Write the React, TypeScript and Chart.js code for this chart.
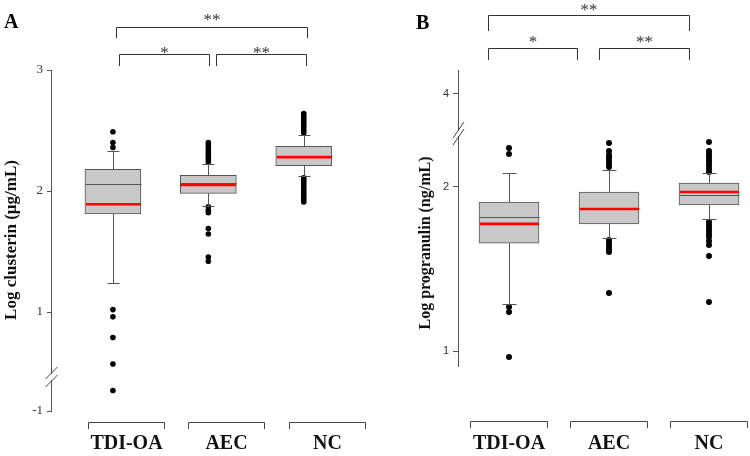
import React, { useEffect, useRef } from 'react';
import { Chart, registerables, LinearScale } from 'chart.js';

// ---------------- data ----------------
const categories = ['TDI-OA', 'AEC', 'NC'];

// Panel A: Log clusterin (μg/mL)
const clusterinQ1 = [1.81, 1.98, 2.21];
const clusterinQ3 = [2.18, 2.13, 2.37];
const clusterinMedian = [2.06, 2.07, 2.29];
const clusterinMean = [1.89, 2.05, 2.28];
const clusterinWhiskerLow = [1.24, 1.88, 2.12];
const clusterinWhiskerHigh = [2.33, 2.22, 2.46];
const clusterinOutliersTDI = [2.49, 2.4, 2.36, 1.02, 0.96, 0.79, 0.57, -0.83];
const clusterinOutliersAEC = [2.4, 2.38, 2.36, 2.34, 2.32, 2.3, 2.28, 2.26, 2.24, 1.87, 1.84, 1.82, 1.69, 1.645, 1.455, 1.42];
const clusterinOutliersNC = [2.64, 2.62, 2.6, 2.58, 2.56, 2.54, 2.52, 2.5, 2.48, 2.11, 2.09, 2.07, 2.05, 2.03, 2.01, 1.99, 1.97, 1.95, 1.93, 1.91];
const clusterinTicks = [3, 2, 1, -1];

// Panel B: Log progranulin (ng/mL)
const progranulinQ1 = [1.578, 1.711, 1.854];
const progranulinQ3 = [1.877, 1.958, 2.034];
const progranulinMedian = [1.762, 1.83, 1.935];
const progranulinMean = [1.711, 1.822, 1.958];
const progranulinWhiskerLow = [1.22, 1.612, 1.747];
const progranulinWhiskerHigh = [2.122, 2.149, 2.122];
const progranulinOutliersTDI = [2.358, 2.3, 1.204, 1.179, 0.975];
const progranulinOutliersAEC = [2.409, 2.329, 2.29, 2.26, 2.233, 2.2, 2.176, 1.598, 1.578, 1.558, 1.539, 1.52, 1.278];
const progranulinOutliersNC = [2.419, 2.329, 2.3, 2.27, 2.24, 2.215, 2.19, 2.16, 2.13, 1.725, 1.703, 1.682, 1.661, 1.64, 1.619, 1.592, 1.565, 1.494, 1.23];
const progranulinTicks = [4, 2, 1];

// ---------------- broken axis scale ----------------
class BrokenScale extends LinearScale {
  static id = 'broken';
  static defaults = {};
  t(x: number): number {
    const o: any = this.options;
    return o.logBase2 ? Math.log2(x) : x;
  }
  fwd(v: number): number {
    const o: any = this.options;
    const tv = this.t(v);
    const lo = this.t(o.breakLow);
    const hi = this.t(o.breakHigh);
    if (tv >= hi) return tv - (hi - lo);
    if (tv > lo) return lo;
    return tv;
  }
  inv(u: number): number {
    const o: any = this.options;
    const lo = this.t(o.breakLow);
    const hi = this.t(o.breakHigh);
    const tv = u > lo ? u + (hi - lo) : u;
    return o.logBase2 ? Math.pow(2, tv) : tv;
  }
  getPixelForValue(value: any) {
    if (value === null || value === undefined || isNaN(value)) return NaN;
    const a = this.fwd(this.min);
    const b = this.fwd(this.max);
    return this.getPixelForDecimal((this.fwd(value) - a) / (b - a));
  }
  getValueForPixel(pixel: number) {
    const a = this.fwd(this.min);
    const b = this.fwd(this.max);
    return this.inv(a + this.getDecimalForPixel(pixel) * (b - a));
  }
}

Chart.register(...registerables, BrokenScale as any);
Chart.defaults.font.family = '"Liberation Serif", serif';

const SERIF = '"Liberation Serif", "Times New Roman", serif';
const SANS = '"Liberation Sans", Arial, sans-serif';

type Sig = { x1: number; x2: number; y: number; drop: number; label: string; textY: number };

const panelA = {
  letter: 'A', letterX: 4, letterY: 28,
  title: 'Log clusterin (μg/mL)', titleX: 12, titleY: 240, titleSize: 17,
  q1: clusterinQ1, q3: clusterinQ3, median: clusterinMedian, mean: clusterinMean,
  wLow: clusterinWhiskerLow, wHigh: clusterinWhiskerHigh,
  outliers: [clusterinOutliersTDI, clusterinOutliersAEC, clusterinOutliersNC],
  ticks: clusterinTicks, yMin: -1, yMax: 3, breakLow: -0.719, breakHigh: 0.463, logBase2: false,
  tickFont: { family: SERIF, size: 13 }, tickLength: 4,
  padding: { left: 0, top: 70, right: 14, bottom: 45 }, axisWidth: 51,
  xMin: -0.649, xMax: 2.6, boxWidth: 56, capWidth: 12, pointRadius: 2.8,
  breakY: 377, breakW: 6, breakH: 6, breakD: 4,
  sig: [
    { x1: 0.03, x2: 2.03, y: 27, drop: 38, label: '**', textY: 25 },
    { x1: 0.063, x2: 1.005, y: 54, drop: 66, label: '*', textY: 58 },
    { x1: 1.079, x2: 2.02, y: 54, drop: 66, label: '**', textY: 58 },
  ] as Sig[],
  catCenters: [0.136, 1.189, 2.247], catHalf: 0.398, catLineY: 422, catDrop: 429, catBaseline: 449,
};

const panelB = {
  letter: 'B', letterX: 41, letterY: 29,
  title: 'Log progranulin (ng/mL)', titleX: 51, titleY: 243, titleSize: 16,
  q1: progranulinQ1, q3: progranulinQ3, median: progranulinMedian, mean: progranulinMean,
  wLow: progranulinWhiskerLow, wHigh: progranulinWhiskerHigh,
  outliers: [progranulinOutliersTDI, progranulinOutliersAEC, progranulinOutliersNC],
  ticks: progranulinTicks, yMin: 0.9386, yMax: 4.426, breakLow: 2.512, breakHigh: 3.391, logBase2: true,
  tickFont: { family: SANS, size: 11 }, tickLength: 5,
  padding: { left: 0, top: 70, right: 5, bottom: 90 }, axisWidth: 83,
  xMin: -0.51, xMax: 2.36, boxWidth: 60, capWidth: 14, pointRadius: 3,
  breakY: 133.5, breakW: 5.5, breakH: 8, breakD: 3.5,
  sig: [
    { x1: -0.21, x2: 1.8, y: 15, drop: 31, label: '**', textY: 15 },
    { x1: -0.21, x2: 0.68, y: 48, drop: 60, label: '*', textY: 46.5 },
    { x1: 0.9, x2: 1.8, y: 48, drop: 60, label: '**', textY: 46.5 },
  ] as Sig[],
  catCenters: [-0.005, 0.995, 1.995], catHalf: 0.385, catLineY: 421, catDrop: 428, catBaseline: 449,
};

type Panel = typeof panelA;

function line(ctx: CanvasRenderingContext2D, x1: number, y1: number, x2: number, y2: number) {
  ctx.beginPath();
  ctx.moveTo(x1, y1);
  ctx.lineTo(x2, y2);
  ctx.stroke();
}
const crisp = (v: number) => Math.round(v) + 0.5;

function makeOverlay(p: Panel) {
  return {
    id: 'overlay' + p.letter,
    afterDatasetsDraw(chart: any) {
      const ctx: CanvasRenderingContext2D = chart.ctx;
      const xs = chart.scales.x;
      const ys = chart.scales.y;
      ctx.save();
      for (let i = 0; i < p.q1.length; i++) {
        const cx = crisp(xs.getPixelForValue(i));
        const hw = p.boxWidth / 2;
        const hc = p.capWidth / 2;
        ctx.strokeStyle = '#555';
        ctx.lineWidth = 1;
        const yq3 = ys.getPixelForValue(p.q3[i]);
        const yq1 = ys.getPixelForValue(p.q1[i]);
        const yHi = crisp(ys.getPixelForValue(p.wHigh[i]));
        const yLo = crisp(ys.getPixelForValue(p.wLow[i]));
        line(ctx, cx, yq3, cx, yHi);
        line(ctx, cx, yq1, cx, yLo);
        line(ctx, cx - hc, yHi, cx + hc, yHi);
        line(ctx, cx - hc, yLo, cx + hc, yLo);
        const yMed = crisp(ys.getPixelForValue(p.median[i]));
        ctx.strokeStyle = '#555';
        line(ctx, cx - hw, yMed, cx + hw, yMed);
        const yMean = ys.getPixelForValue(p.mean[i]);
        ctx.strokeStyle = '#ff0000';
        ctx.lineWidth = 2.6;
        line(ctx, cx - hw + 0.5, yMean, cx + hw - 0.5, yMean);
      }
      ctx.restore();
    },
    afterDraw(chart: any) {
      const ctx: CanvasRenderingContext2D = chart.ctx;
      const xs = chart.scales.x;
      const area = chart.chartArea;
      ctx.save();
      // significance brackets
      ctx.strokeStyle = '#333';
      ctx.fillStyle = '#333';
      ctx.lineWidth = 1;
      p.sig.forEach((s) => {
        const x1 = crisp(xs.getPixelForValue(s.x1));
        const x2 = crisp(xs.getPixelForValue(s.x2));
        const y = s.y + 0.5;
        ctx.beginPath();
        ctx.moveTo(x1, s.drop);
        ctx.lineTo(x1, y);
        ctx.lineTo(x2, y);
        ctx.lineTo(x2, s.drop);
        ctx.stroke();
        ctx.font = '17px ' + SERIF;
        ctx.textAlign = 'center';
        ctx.textBaseline = 'alphabetic';
        ctx.fillText(s.label, (x1 + x2) / 2, s.textY);
      });
      // category brackets and labels
      ctx.strokeStyle = '#444';
      ctx.fillStyle = '#111';
      p.catCenters.forEach((c, i) => {
        const x1 = crisp(xs.getPixelForValue(c - p.catHalf));
        const x2 = crisp(xs.getPixelForValue(c + p.catHalf));
        const y = p.catLineY + 0.5;
        ctx.beginPath();
        ctx.moveTo(x1, p.catDrop);
        ctx.lineTo(x1, y);
        ctx.lineTo(x2, y);
        ctx.lineTo(x2, p.catDrop);
        ctx.stroke();
        ctx.font = 'bold 20px ' + SERIF;
        ctx.textAlign = 'center';
        ctx.textBaseline = 'alphabetic';
        ctx.fillText(categories[i], (x1 + x2) / 2, p.catBaseline);
      });
      // axis break
      const ax = crisp(area.left);
      ctx.fillStyle = '#fff';
      ctx.fillRect(ax - 1.5, p.breakY - p.breakD + 1, 3, 2 * p.breakD - 2);
      ctx.strokeStyle = '#444';
      [-p.breakD, p.breakD].forEach((d) => {
        line(ctx, ax - p.breakW, p.breakY + d + p.breakH, ax + p.breakW, p.breakY + d - p.breakH);
      });
      // panel letter
      ctx.fillStyle = '#000';
      ctx.font = 'bold 20px ' + SERIF;
      ctx.textAlign = 'left';
      ctx.textBaseline = 'alphabetic';
      ctx.fillText(p.letter, p.letterX, p.letterY);
      // y title
      ctx.save();
      ctx.translate(p.titleX, p.titleY);
      ctx.rotate(-Math.PI / 2);
      ctx.font = 'bold ' + p.titleSize + 'px ' + SERIF;
      ctx.textAlign = 'center';
      ctx.textBaseline = 'middle';
      ctx.fillStyle = '#111';
      ctx.fillText(p.title, 0, 0);
      ctx.restore();
      ctx.restore();
    },
  };
}

function buildConfig(p: Panel): any {
  const boxes = p.q1.map((v, i) => ({ x: i, y: [v, p.q3[i]] }));
  const points = p.outliers.flatMap((arr, i) => arr.map((v) => ({ x: i, y: v })));
  return {
    type: 'bar',
    data: {
      datasets: [
        {
          type: 'bar',
          label: 'box',
          data: boxes,
          backgroundColor: '#c8c8c8',
          borderColor: '#555',
          borderWidth: 1,
          borderSkipped: false,
          barThickness: p.boxWidth,
        },
        {
          type: 'scatter',
          label: 'outliers',
          data: points,
          pointRadius: p.pointRadius,
          pointBackgroundColor: '#000',
          pointBorderWidth: 0,
          showLine: false,
        },
      ],
    },
    options: {
      responsive: false,
      animation: false,
      devicePixelRatio: 1,
      events: [],
      layout: { padding: p.padding },
      plugins: { legend: { display: false }, tooltip: { enabled: false } },
      scales: {
        x: { type: 'linear', min: p.xMin, max: p.xMax, display: false, offset: false, grace: 0, bounds: 'data', grid: { offset: false } },
        y: {
          type: 'broken',
          min: p.yMin,
          max: p.yMax,
          breakLow: p.breakLow,
          breakHigh: p.breakHigh,
          logBase2: p.logBase2,
          afterBuildTicks: (scale: any) => {
            scale.ticks = p.ticks.map((v) => ({ value: v }));
          },
          afterFit: (scale: any) => {
            scale.width = p.axisWidth;
          },
          ticks: {
            autoSkip: false,
            padding: 4,
            color: '#333',
            font: p.tickFont,
            callback: (v: any) => String(v),
          },
          grid: { display: true, drawOnChartArea: false, drawTicks: true, tickLength: p.tickLength, color: '#555' },
          border: { display: true, color: '#555', width: 1 },
        },
      },
    },
    plugins: [makeOverlay(p)],
  };
}

function PanelChart({ cfg }: { cfg: Panel }) {
  const ref = useRef<HTMLCanvasElement>(null);
  useEffect(() => {
    const chart = new Chart(ref.current as HTMLCanvasElement, buildConfig(cfg));
    return () => chart.destroy();
  }, [cfg]);
  return <canvas ref={ref} width={375} height={456} style={{ display: 'block', width: 375, height: 456 }} />;
}

export default function App() {
  return (
    <div style={{ position: 'fixed', left: 0, top: 0, width: 750, height: 456, display: 'flex', background: '#fff' }}>
      <PanelChart cfg={panelA} />
      <PanelChart cfg={panelB as any} />
    </div>
  );
}
